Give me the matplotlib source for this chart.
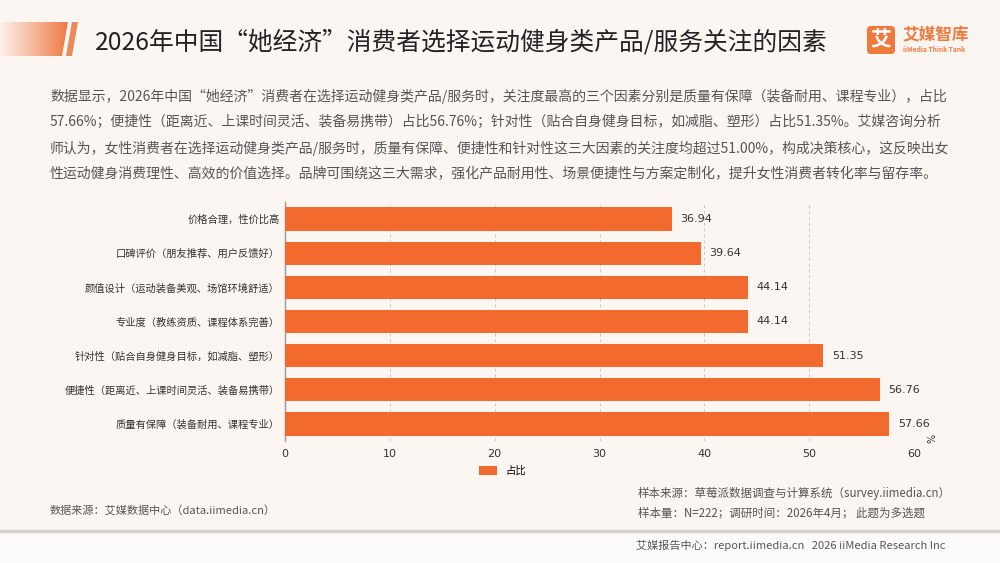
import numpy as np
import matplotlib.pyplot as plt
from matplotlib.patches import Polygon, FancyBboxPatch, Patch
from matplotlib.colors import LinearSegmentedColormap

plt.rcParams['font.family'] = ['Noto Sans CJK SC', 'DejaVu Sans']

# data
categories = ['价格合理，性价比高',
              '口碑评价（朋友推荐、用户反馈好）',
              '颜值设计（运动装备美观、场馆环境舒适）',
              '专业度（教练资质、课程体系完善）',
              '针对性（贴合自身健身目标，如减脂、塑形）',
              '便捷性（距离近、上课时间灵活、装备易携带）',
              '质量有保障（装备耐用、课程专业）']
values = [36.94, 39.64, 44.14, 44.14, 51.35, 56.76, 57.66]
xticks = [0, 10, 20, 30, 40, 50, 60]

title = '2026年中国“她经济”消费者选择运动健身类产品/服务关注的因素'
para = ['数据显示，2026年中国“她经济”消费者在选择运动健身类产品/服务时，关注度最高的三个因素分别是质量有保障（装备耐用、课程专业），占比',
        '57.66%；便捷性（距离近、上课时间灵活、装备易携带）占比56.76%；针对性（贴合自身健身目标，如减脂、塑形）占比51.35%。艾媒咨询分析',
        '师认为，女性消费者在选择运动健身类产品/服务时，质量有保障、便捷性和针对性这三大因素的关注度均超过51.00%，构成决策核心，这反映出女',
        '性运动健身消费理性、高效的价值选择。品牌可围绕这三大需求，强化产品耐用性、场景便捷性与方案定制化，提升女性消费者转化率与留存率。']

bg = '#fcf6f3'
orange = '#f26a2e'

fig = plt.figure(figsize=(10, 5.63), dpi=100, facecolor=bg)

# decoration layer in pixel coordinates
deco = fig.add_axes([0, 0, 1, 1], zorder=-1)
deco.set_xlim(0, 1000)
deco.set_ylim(563, 0)
deco.axis('off')
deco.add_patch(plt.Rectangle((0, 532), 1000, 31, color='#fdfbfa', lw=0))
deco.plot([0, 1000], [531, 531], color='#d4d0ce', lw=2.5)

grad = np.linspace(0, 1, 200).reshape(1, -1)
cm = LinearSegmentedColormap.from_list('g', ['#fdf1ec', '#f6b899', '#ec7a45'])
im = deco.imshow(grad, extent=(0, 68, 56, 22), cmap=cm, aspect='auto')
clip = Polygon([(0, 22), (68, 22), (62, 56), (0, 56)], closed=True, transform=deco.transData)
im.set_clip_path(clip)
deco.add_patch(Polygon([(72, 22), (78, 22), (72, 56), (66, 56)], color='#e98a5e', lw=0))

fig.text(0.095, 1 - 42 / 563, title, fontsize=17.8, color='#222222', va='center')

# logo
deco.add_patch(FancyBboxPatch((867, 26), 28, 28, boxstyle='round,pad=0,rounding_size=4',
                              color='#ef7a3e', lw=0))
deco.text(881, 40, '艾', color='white', fontsize=15, fontweight='bold', ha='center', va='center')
deco.text(902, 35, '艾媒智库', color='#ef7a3e', fontsize=12, fontweight='bold', va='center')
deco.text(903, 50, 'iiMedia Think Tank', color='#ef7a3e', fontsize=4.8, fontweight='bold', va='center')

for i, line in enumerate(para):
    fig.text(0.05, 1 - (96 + i * 26) / 563, line, fontsize=10, color='#555555', va='center')

# chart
ax = fig.add_axes([0.285, 1 - 441 / 563, 0.914 - 0.285, (441 - 202) / 563])
ax.set_facecolor('none')
y = np.arange(len(categories))
ax.barh(y, values, height=0.68, color=orange, zorder=3, label='占比')
for yi, v in zip(y, values):
    ax.text(v + 0.8, yi, f'{v:.2f}', va='center', ha='left', fontsize=8,
            family='DejaVu Sans', color='#333333')
ax.set_yticks(y)
ax.set_yticklabels(categories, fontsize=7.4, color='#333333')
ax.set_ylim(len(categories) - 0.5, -0.5)
ax.set_xlim(0, 60)
ax.set_xticks(xticks)
ax.set_xticklabels([str(t) for t in xticks], fontsize=8, family='DejaVu Sans', color='#333333')
ax.tick_params(axis='x', length=0, pad=6)
ax.tick_params(axis='y', length=0, pad=4)
ax.grid(axis='x', linestyle=(0, (3, 3)), color='#c8c8c8', lw=0.7, zorder=0)
for s in ['top', 'right', 'bottom']:
    ax.spines[s].set_visible(False)
ax.spines['left'].set_color('#999999')
ax.spines['left'].set_linewidth(1)
fig.text(0.932, 1 - 438 / 563, '%', fontsize=7, rotation=90, color='#333333',
         ha='center', va='center', family='DejaVu Sans')

fig.legend(handles=[Patch(facecolor=orange, label='占比')], loc='center left',
           bbox_to_anchor=(0.47, 1 - 471 / 563), frameon=False, fontsize=7.5,
           handlelength=1.7, handleheight=0.9, handletextpad=0.8)

fig.text(0.05, 1 - 510 / 563, '数据来源：艾媒数据中心（data.iimedia.cn）', fontsize=8, color='#555555', va='center')
fig.text(0.638, 1 - 493 / 563, '样本来源：草莓派数据调查与计算系统（survey.iimedia.cn）', fontsize=8.3, color='#555555', va='center')
fig.text(0.638, 1 - 513 / 563, '样本量：N=222；调研时间：2026年4月； 此题为多选题', fontsize=8.3, color='#555555', va='center')
fig.text(0.945, 1 - 545 / 563, '艾媒报告中心：report.iimedia.cn   2026 iiMedia Research Inc', fontsize=8,
         color='#555555', va='center', ha='right')

fig.savefig('out.png', dpi=100, facecolor=bg)
